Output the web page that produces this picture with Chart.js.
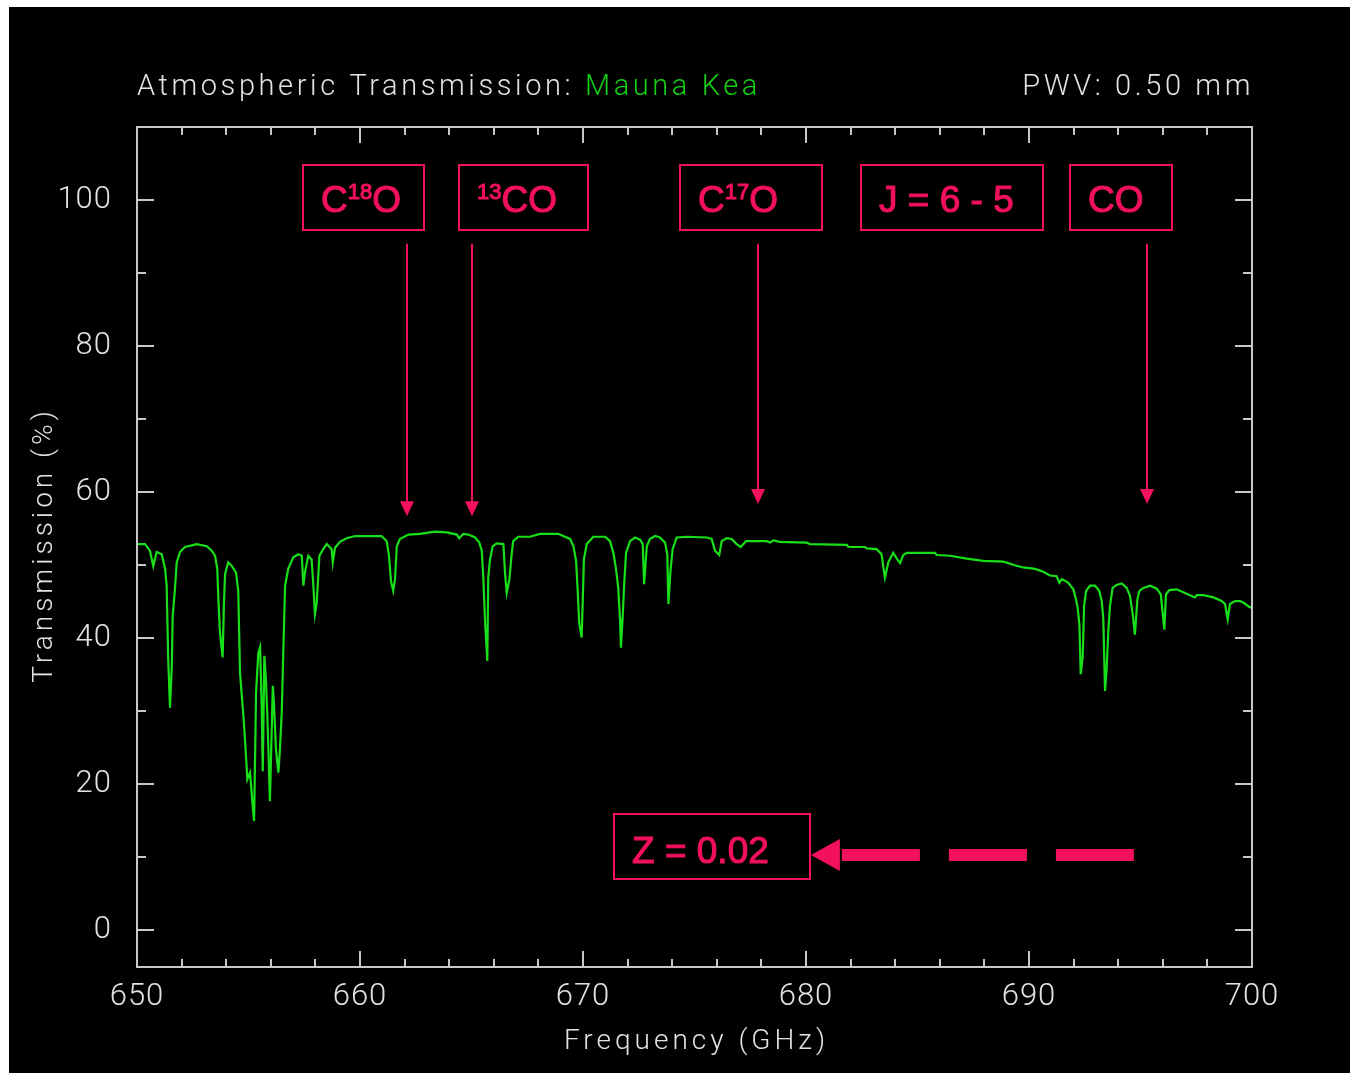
<!DOCTYPE html>
<html>
<head>
<meta charset="utf-8">
<title>Atmospheric Transmission: Mauna Kea</title>
<script src="https://cdn.jsdelivr.net/npm/chart.js@4.4.1/dist/chart.umd.min.js"></script>
<style>
  html, body { margin: 0; padding: 0; background: #fff; }
  canvas { display: block; }
</style>
</head>
<body>
<canvas id="atm" width="1360" height="1081"></canvas>
<script>
// Transmission spectrum, 650-700 GHz, PWV 0.50 mm
const freqGHz = [
  650.00, 650.36, 650.58, 650.73, 650.88, 651.11, 651.26, 651.33, 651.40, 651.48,
  651.56, 651.60, 651.70, 651.78, 651.93, 652.15, 652.68, 653.13, 653.35, 653.50,
  653.60, 653.65, 653.72, 653.84, 653.90, 653.95, 654.09, 654.25, 654.44, 654.54,
  654.62, 654.70, 654.77, 654.84, 654.95, 655.07, 655.19, 655.25, 655.34, 655.44,
  655.52, 655.59, 655.64, 655.71, 655.78, 655.84, 655.91, 655.96, 656.09, 656.14,
  656.23, 656.34, 656.41, 656.49, 656.56, 656.64, 656.78, 657.01, 657.23, 657.39,
  657.46, 657.53, 657.68, 657.83, 657.91, 657.98, 658.06, 658.18, 658.35, 658.51,
  658.73, 658.78, 658.88, 659.10, 659.40, 659.78, 660.97, 661.20, 661.30, 661.39,
  661.49, 661.57, 661.65, 661.79, 662.17, 662.69, 663.36, 663.89, 664.34, 664.45,
  664.63, 664.86, 665.16, 665.35, 665.46, 665.53, 665.61, 665.71, 665.75, 665.83,
  665.95, 666.13, 666.43, 666.50, 666.58, 666.70, 666.80, 666.87, 667.10, 667.62,
  668.07, 668.89, 669.19, 669.42, 669.57, 669.69, 669.76, 669.83, 669.94, 669.99,
  670.04, 670.17, 670.46, 670.99, 671.21, 671.36, 671.48, 671.58, 671.66, 671.70,
  671.78, 671.85, 671.93, 672.11, 672.33, 672.56, 672.68, 672.74, 672.86, 673.00,
  673.23, 673.45, 673.68, 673.78, 673.83, 673.93, 674.02, 674.20, 674.65, 675.55,
  675.77, 675.92, 676.11, 676.22, 676.44, 676.67, 676.89, 677.07, 677.31, 678.24,
  678.39, 678.53, 678.83, 680.03, 680.18, 681.83, 681.90, 682.65, 682.72, 683.17,
  683.39, 683.47, 683.54, 683.69, 683.91, 684.07, 684.22, 684.36, 684.52, 685.78,
  685.86, 686.46, 687.21, 687.95, 688.85, 689.37, 689.74, 690.27, 690.64, 690.94,
  691.24, 691.36, 691.47, 691.61, 691.76, 691.99, 692.11, 692.18, 692.26, 692.32,
  692.41, 692.47, 692.56, 692.74, 692.96, 693.15, 693.26, 693.33, 693.41, 693.48,
  693.56, 693.63, 693.75, 693.93, 694.16, 694.38, 694.53, 694.65, 694.75, 694.86,
  694.95, 695.13, 695.43, 695.73, 695.91, 696.07, 696.14, 696.29, 696.62, 696.92,
  697.14, 697.44, 697.52, 697.82, 698.27, 698.64, 698.79, 698.91, 699.01, 699.24,
  699.46, 699.61, 699.88, 700.00
];
const transmission = [
  52.9, 52.9, 52.0, 49.9, 51.8, 51.5, 49.5, 47.2, 37.1, 30.5,
  36.2, 43.0, 46.7, 50.4, 51.8, 52.5, 52.9, 52.6, 52.0, 51.3,
  49.5, 45.3, 40.8, 37.4, 44.9, 48.8, 50.4, 49.9, 49.0, 46.5,
  35.3, 32.1, 29.4, 26.2, 20.7, 21.6, 17.0, 15.0, 32.6, 38.0,
  38.8, 30.7, 21.8, 37.6, 34.4, 29.8, 23.0, 17.7, 33.5, 31.2,
  24.8, 21.6, 24.8, 29.8, 38.0, 47.2, 49.5, 51.1, 51.5, 51.3,
  47.2, 49.0, 51.3, 50.8, 47.2, 43.3, 44.9, 51.3, 52.2, 52.9,
  52.2, 50.4, 52.4, 53.2, 53.7, 54.0, 54.0, 53.3, 51.3, 47.8,
  46.5, 48.1, 52.6, 53.6, 54.2, 54.3, 54.6, 54.5, 54.2, 53.7,
  54.3, 54.2, 53.8, 53.1, 52.0, 48.3, 42.1, 36.9, 48.3, 50.8,
  52.6, 53.0, 52.9, 49.1, 46.2, 48.1, 51.5, 53.3, 53.9, 53.9,
  54.3, 54.3, 53.9, 53.6, 52.6, 50.6, 46.7, 42.1, 40.1, 45.3,
  50.8, 52.9, 53.9, 53.9, 53.3, 51.7, 49.5, 46.9, 42.6, 38.7,
  43.0, 47.6, 51.7, 53.3, 53.8, 53.5, 52.9, 47.4, 52.6, 53.6,
  54.0, 53.8, 53.1, 51.5, 44.7, 49.5, 52.2, 53.8, 53.9, 53.8,
  53.6, 52.0, 51.4, 53.3, 53.7, 53.6, 52.9, 52.5, 53.3, 53.3,
  53.1, 53.4, 53.2, 53.1, 52.9, 52.8, 52.5, 52.5, 52.3, 52.2,
  51.5, 49.7, 48.3, 50.4, 51.7, 50.9, 50.3, 51.4, 51.7, 51.7,
  51.4, 51.3, 50.9, 50.6, 50.5, 50.0, 49.7, 49.5, 49.1, 48.6,
  48.5, 47.6, 48.1, 47.9, 47.6, 46.7, 45.3, 44.2, 41.9, 35.1,
  37.6, 44.4, 46.5, 47.2, 47.2, 46.5, 45.1, 42.8, 32.8, 35.8,
  41.2, 44.4, 46.9, 47.3, 47.5, 46.9, 45.8, 43.3, 40.5, 45.3,
  46.5, 46.9, 47.2, 46.8, 46.0, 41.2, 46.0, 46.6, 46.7, 46.3,
  46.0, 45.6, 45.9, 45.9, 45.6, 45.1, 44.7, 42.6, 44.7, 45.1,
  45.1, 44.9, 44.3, 44.2
];

const xTickValues = [650, 660, 670, 680, 690, 700];
const yTickValues = [0, 20, 40, 60, 80, 100];

const titleText = 'Atmospheric Transmission: ';
const siteName = 'Mauna Kea';
const pwvText = 'PWV: 0.50 mm';
const xTitle = 'Frequency (GHz)';
const yTitle = 'Transmission (%)';

// line labels: odd-indexed parts are superscripts
const lineLabels = [['C', '18', 'O'], ['', '13', 'CO'], ['C', '17', 'O'], ['J = 6 - 5'], ['CO']];
const arrowFreqGHz = [662.1, 665.0, 677.85, null, 695.3];
const redshiftLabel = 'Z = 0.02';

// label box extents in axis units (GHz, %)
const boxSpanGHz = [[657.44, 662.87], [664.44, 670.22], [674.35, 680.72], [682.47, 690.63], [691.84, 696.41]];
const boxTopPct = 104.8, boxBottomPct = 95.9;
const arrowStartPct = 94.0;
const arrowTipPct = [56.7, 56.7, 58.4, null, 58.4];
const zBoxGHz = [671.39, 680.18], zBoxPct = [15.9, 7.0];
const zArrowGHz = [680.22, 694.75], zArrowPct = 10.3;

const PINK = '#f2105f';
const AXIS_GREY = '#c8c8c8';
const TEXT_GREY = '#e2e2e2';
const LABEL_FONT = '"Liberation Sans", Arial, sans-serif';
const PLOT_FONT = 'Roboto, "DejaVu Sans", sans-serif';

const blackPanel = {
  id: 'blackPanel',
  beforeDraw(chart) {
    const ctx = chart.ctx;
    ctx.save();
    ctx.fillStyle = '#000';
    ctx.fillRect(9, 7, 1341, 1066);
    ctx.restore();
    ctx.letterSpacing = '1px';   // tick labels
  }
};

// frame with inward major/minor ticks on all four sides
const frameTicks = {
  id: 'frameTicks',
  afterDatasetsDraw(chart) {
    const { ctx, chartArea: a, scales: { x, y } } = chart;
    ctx.save();
    ctx.strokeStyle = AXIS_GREY;
    ctx.lineWidth = 2;
    ctx.strokeRect(a.left, a.top, a.right - a.left, a.bottom - a.top);
    ctx.beginPath();
    for (let f = 652; f < 700; f += 2) {
      const px = Math.round(x.getPixelForValue(f));
      const len = f % 10 === 0 ? 16 : 8;
      ctx.moveTo(px, a.bottom); ctx.lineTo(px, a.bottom - len);
      ctx.moveTo(px, a.top); ctx.lineTo(px, a.top + len);
    }
    for (let v = 0; v <= 100; v += 10) {
      const py = Math.round(y.getPixelForValue(v));
      const len = v % 20 === 0 ? 17 : 9;
      ctx.moveTo(a.left, py); ctx.lineTo(a.left + len, py);
      ctx.moveTo(a.right, py); ctx.lineTo(a.right - len, py);
    }
    ctx.stroke();
    ctx.restore();
  }
};

// text with superscript parts, slightly emboldened with a thin outline
function drawParts(ctx, parts, x, y) {
  let cx = x;
  ctx.lineWidth = 1.1;
  ctx.setLineDash([]);
  parts.forEach((p, i) => {
    const sup = i % 2 === 1;
    ctx.font = (sup ? '22px ' : '37px ') + LABEL_FONT;
    const ty = sup ? y - 13 : y;
    ctx.fillText(p, cx, ty);
    ctx.strokeText(p, cx, ty);
    cx += ctx.measureText(p).width;
  });
  ctx.lineWidth = 2;
}

function arrowHead(ctx, tipX, tipY, dirX, dirY, len, half) {
  const bx = tipX - dirX * len, by = tipY - dirY * len;
  ctx.beginPath();
  ctx.moveTo(tipX, tipY);
  ctx.lineTo(bx - dirY * half, by + dirX * half);
  ctx.lineTo(bx + dirY * half, by - dirX * half);
  ctx.closePath();
  ctx.fill();
}

const lineMarkers = {
  id: 'lineMarkers',
  afterDatasetsDraw(chart) {
    const { ctx, scales: { x, y } } = chart;
    ctx.save();
    ctx.letterSpacing = '0px';
    ctx.strokeStyle = PINK;
    ctx.fillStyle = PINK;
    ctx.lineWidth = 2;
    ctx.textBaseline = 'alphabetic';
    ctx.textAlign = 'left';

    const top = Math.round(y.getPixelForValue(boxTopPct));
    const bottom = Math.round(y.getPixelForValue(boxBottomPct));
    lineLabels.forEach((parts, i) => {
      const l = Math.round(x.getPixelForValue(boxSpanGHz[i][0]));
      const r = Math.round(x.getPixelForValue(boxSpanGHz[i][1]));
      ctx.strokeRect(l, top, r - l, bottom - top);
      drawParts(ctx, parts, l + 18, bottom - 18);

      if (arrowFreqGHz[i] !== null) {
        const ax = Math.round(x.getPixelForValue(arrowFreqGHz[i]));
        const y0 = y.getPixelForValue(arrowStartPct);
        const y1 = y.getPixelForValue(arrowTipPct[i]);
        ctx.beginPath();
        ctx.moveTo(ax, y0);
        ctx.lineTo(ax, y1 - 12);
        ctx.stroke();
        arrowHead(ctx, ax, y1, 0, 1, 15, 7);
      }
    });

    // redshift box with dashed arrow
    const zl = Math.round(x.getPixelForValue(zBoxGHz[0]));
    const zr = Math.round(x.getPixelForValue(zBoxGHz[1]));
    const zt = Math.round(y.getPixelForValue(zBoxPct[0]));
    const zb = Math.round(y.getPixelForValue(zBoxPct[1]));
    ctx.strokeRect(zl, zt, zr - zl, zb - zt);
    drawParts(ctx, [redshiftLabel], zl + 18, zb - 16);

    const tipX = x.getPixelForValue(zArrowGHz[0]);
    const endX = x.getPixelForValue(zArrowGHz[1]);
    const ay = Math.round(y.getPixelForValue(zArrowPct));
    arrowHead(ctx, tipX, ay, -1, 0, 29, 16);
    ctx.beginPath();
    ctx.lineWidth = 12;
    ctx.setLineDash([78, 29]);
    ctx.moveTo(tipX + 31, ay);
    ctx.lineTo(endX, ay);
    ctx.stroke();
    ctx.restore();
  }
};

const plotTexts = {
  id: 'plotTexts',
  afterDraw(chart) {
    const { ctx, chartArea: a } = chart;
    ctx.save();
    ctx.font = '300 29px ' + PLOT_FONT;
    ctx.letterSpacing = '3.6px';
    ctx.textBaseline = 'alphabetic';
    ctx.textAlign = 'left';
    ctx.fillStyle = TEXT_GREY;
    ctx.fillText(titleText, a.left, 95);
    const w = ctx.measureText(titleText).width;
    ctx.fillStyle = '#12d012';
    ctx.fillText(siteName, a.left + w, 95);
    ctx.textAlign = 'right';
    ctx.fillStyle = TEXT_GREY;
    ctx.fillText(pwvText, a.right + 2, 95);

    ctx.font = '300 28px ' + PLOT_FONT;
    ctx.letterSpacing = '4px';
    ctx.textAlign = 'center';
    ctx.textBaseline = 'middle';
    ctx.fillText(xTitle, (a.left + a.right) / 2 + 2, 1042);
    ctx.translate(45, (a.top + a.bottom) / 2);
    ctx.rotate(-Math.PI / 2);
    ctx.fillText(yTitle, 2, 0);
    ctx.restore();
  }
};

new Chart(document.getElementById('atm'), {
  type: 'line',
  data: {
    datasets: [{
      label: 'Transmission',
      data: freqGHz.map((f, i) => ({ x: f, y: transmission[i] })),
      borderColor: '#18e018',
      borderWidth: 2.2,
      pointRadius: 0,
      tension: 0,
      fill: false
    }]
  },
  options: {
    responsive: false,
    animation: false,
    layout: { padding: { top: 127, right: 108, left: 0, bottom: 0 } },
    plugins: { legend: { display: false }, tooltip: { enabled: false } },
    scales: {
      x: {
        type: 'linear',
        min: 650,
        max: 700,
        afterBuildTicks: s => { s.ticks = xTickValues.map(v => ({ value: v })); },
        afterFit: s => { s.height = 114; },
        grid: { display: false, drawTicks: false },
        border: { display: false },
        ticks: {
          color: TEXT_GREY,
          font: { family: PLOT_FONT, size: 31, weight: 300 },
          padding: 12,
          maxRotation: 0,
          autoSkip: false
        }
      },
      y: {
        type: 'linear',
        min: -5,
        max: 110,
        afterBuildTicks: s => { s.ticks = yTickValues.map(v => ({ value: v })); },
        afterFit: s => { s.width = 137; },
        grid: { display: false, drawTicks: false },
        border: { display: false },
        ticks: {
          color: TEXT_GREY,
          font: { family: PLOT_FONT, size: 31, weight: 300 },
          padding: 25
        }
      }
    }
  },
  plugins: [blackPanel, frameTicks, lineMarkers, plotTexts]
});
</script>
</body>
</html>
